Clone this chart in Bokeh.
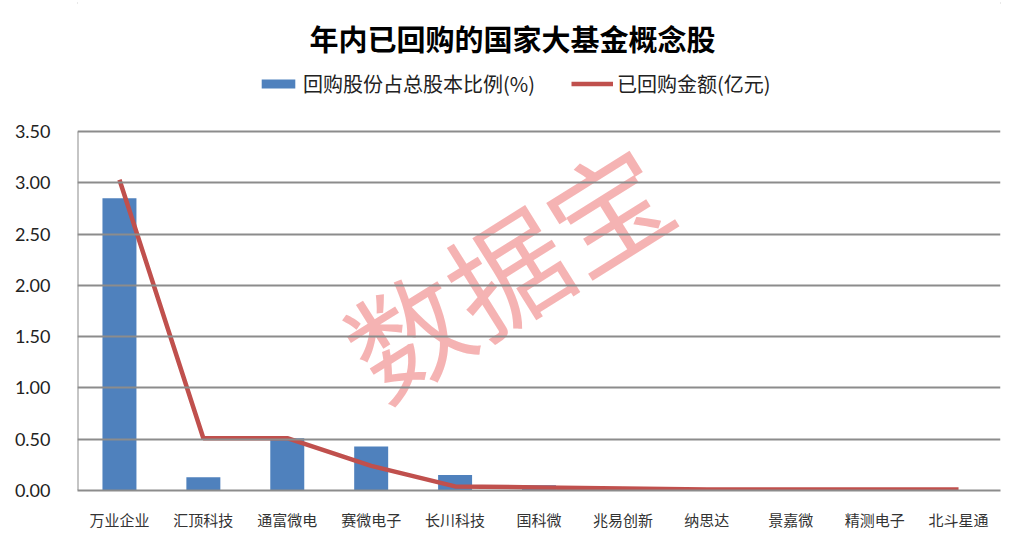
from bokeh.plotting import figure
from bokeh.models import (FactorRange, Range1d, Label, Legend, LegendItem, ColumnDataSource,
                          FixedTicker, CustomJSTickFormatter)
from bokeh.embed import file_html
from bokeh.resources import INLINE

categories = ["万业企业", "汇顶科技", "通富微电", "赛微电子", "长川科技", "国科微",
              "兆易创新", "纳思达", "景嘉微", "精测电子", "北斗星通"]
ratio_pct = [2.85, 0.13, 0.51, 0.43, 0.15, 0.05, 0.0, 0.0, 0.0, 0.0, 0.0]
amount_yi = [3.03, 0.51, 0.51, 0.24, 0.04, 0.03, 0.02, 0.01, 0.01, 0.01, 0.01]
y_ticks = [0, 0.5, 1.0, 1.5, 2.0, 2.5, 3.0, 3.5]

title_text = "年内已回购的国家大基金概念股"
bar_label = "回购股份占总股本比例(%)"
line_label = "已回购金额(亿元)"
watermark = "数据宝"

src = ColumnDataSource(dict(cat=categories, ratio=ratio_pct, amount=amount_yi))

W, H = 1025, 533
FL, FR, FB = 77, 1000, 490      # frame left/right/bottom in pixels
Y_TOP_PX = 131                    # pixel row of the top tick (3.50)
y_max = y_ticks[-1] * FB / (FB - Y_TOP_PX)   # frame reaches the top of the canvas

p = figure(width=W, height=H, x_range=FactorRange(*categories), y_range=Range1d(0, y_max),
           output_backend="svg", toolbar_location=None,
           min_border_left=FL, min_border_right=W - FR, min_border_top=0, min_border_bottom=H - FB)
p.outline_line_color = None
p.background_fill_color = "white"
p.border_fill_color = "white"
p.styles = {"outline": "2px solid #a8a8a8", "outline-offset": "-4px"}

# watermark (drawn beneath the data)
p.add_layout(Label(x=505 - FL, y=FB - 267, x_units="screen", y_units="screen",
                   text=watermark, text_align="center", text_baseline="middle",
                   angle=0.56, text_font="Noto Sans CJK SC", text_font_size="118px",
                   text_color="#f29a9a", text_alpha=0.75, level="underlay"))

bars = p.vbar(x="cat", top="ratio", width=0.405, source=src, color="#4F81BD", line_color=None)
line = p.line(x="cat", y="amount", source=src, line_color="#C0504D", line_width=4.5)

p.xgrid.grid_line_color = None
p.ygrid.grid_line_color = "#8c8c8c"
p.ygrid.grid_line_width = 2
p.ygrid.level = "glyph"

p.yaxis.ticker = FixedTicker(ticks=y_ticks)
p.yaxis.formatter = CustomJSTickFormatter(code="return tick.toFixed(2);")
p.yaxis.major_tick_line_color = None
p.yaxis.minor_tick_line_color = None
p.yaxis.axis_line_color = None
p.yaxis.major_label_text_font = "Lato"
p.yaxis.major_label_text_font_size = "18px"
p.yaxis.major_label_text_color = "#222222"
p.yaxis.major_label_standoff = 21

# vertical axis line only from 0 up to the top tick
p.segment(x0=[0], y0=[y_ticks[0]], x1=[0], y1=[y_ticks[-1]], line_color="#8c8c8c", line_width=2)

p.xaxis.major_tick_line_color = None
p.xaxis.minor_tick_line_color = None
p.xaxis.axis_line_color = "#8c8c8c"
p.xaxis.axis_line_width = 2
p.xaxis.major_label_text_font = "Noto Sans CJK SC"
p.xaxis.major_label_text_font_size = "15px"
p.xaxis.major_label_text_color = "#333333"
p.xaxis.major_label_standoff = 12

# title
p.add_layout(Label(x=512 - FL, y=FB - 37, x_units="screen", y_units="screen",
                   text=title_text, text_align="center", text_baseline="middle",
                   text_font="Noto Sans CJK SC", text_font_style="bold",
                   text_font_size="29px", text_color="#000000"))

legend = Legend(items=[LegendItem(label=bar_label, renderers=[bars]),
                       LegendItem(label=line_label, renderers=[line])],
                orientation="horizontal", location=(257 - FL, FB - 98),
                glyph_width=42, glyph_height=11, label_height=20, label_standoff=4, spacing=36,
                padding=0, margin=0, border_line_color=None, background_fill_alpha=0,
                label_text_font="Noto Sans CJK SC", label_text_font_size="20px",
                label_text_color="#222222")
p.add_layout(legend)

open("out.html", "w").write(file_html(p, INLINE))
